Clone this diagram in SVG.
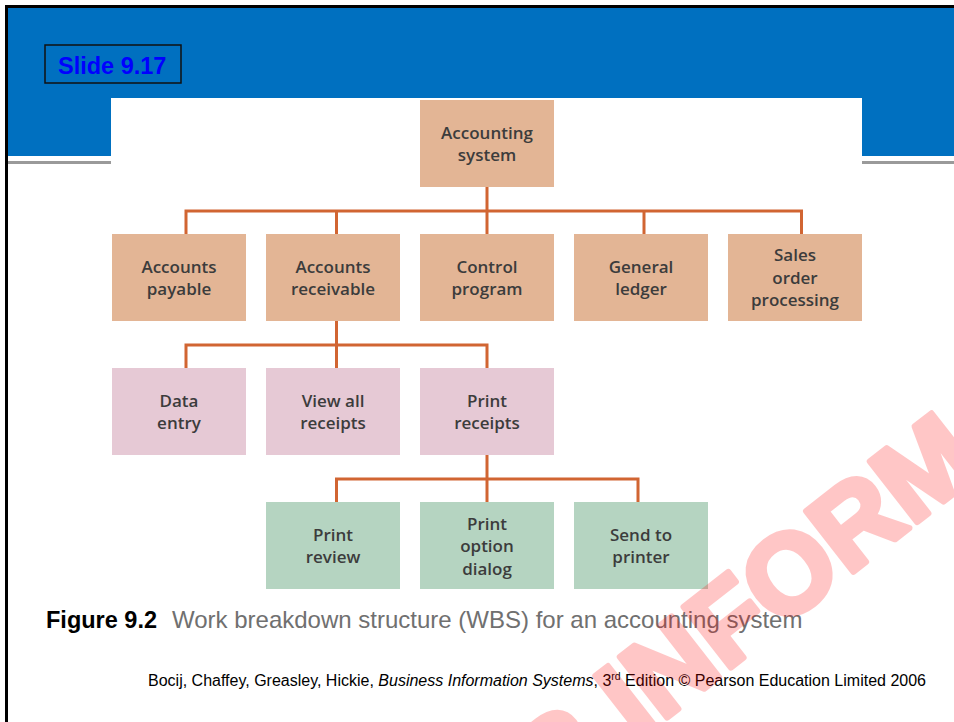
<svg xmlns="http://www.w3.org/2000/svg" width="954" height="722" viewBox="0 0 954 722">
<style>
.node text{font-family:"Open Sans","Noto Sans",sans-serif;font-size:17px;font-weight:600;fill:#3c3c3c;text-anchor:middle}
.l1 rect,.l2 rect{fill:#e3b595}
.l3 rect{fill:#e6c9d5}
.l4 rect{fill:#b5d4c1}
#connectors path{fill:none;stroke:#d16532;stroke-width:3;stroke-linejoin:miter}
</style>
<rect x="0" y="0" width="954" height="722" fill="#ffffff"/>
<rect x="8" y="8" width="946" height="148" fill="#0070c0"/>
<rect x="8" y="161" width="103" height="3" fill="#9a9a9a"/>
<rect x="862" y="161" width="92" height="3" fill="#9a9a9a"/>
<rect x="111" y="98" width="751" height="500" fill="#ffffff"/>
<rect x="5" y="5" width="949" height="3" fill="#000"/>
<rect x="5" y="5" width="3" height="717" fill="#000"/>
<g id="slide-label">
<rect x="45" y="45" width="136" height="38" fill="#0070c0" stroke="#111" stroke-width="1.5"/>
<text x="58" y="74" font-family="'Liberation Sans',Arial,sans-serif" font-size="23.5" font-weight="bold" fill="#0000ff">Slide 9.17</text>
</g>
<g id="connectors">
<path d="M487,187 V234"/>
<path d="M186,234 V211 H801.5 V234"/>
<path d="M336.5,211 V234"/>
<path d="M644,211 V234"/>
<path d="M336.5,321 V368"/>
<path d="M186,368 V345 H487 V368"/>
<path d="M487,455 V502"/>
<path d="M336.5,502 V479 H638 V502"/>
</g>
<g id="n-accounting-system" class="node l1"><rect x="420" y="100" width="134" height="87"/><text x="487" y="138.5">Accounting</text><text x="487" y="161">system</text></g>
<g id="n-accounts-payable" class="node l2"><rect x="112" y="234" width="134" height="87"/><text x="179" y="272.5">Accounts</text><text x="179" y="295">payable</text></g>
<g id="n-accounts-receivable" class="node l2"><rect x="266" y="234" width="134" height="87"/><text x="333" y="272.5">Accounts</text><text x="333" y="295">receivable</text></g>
<g id="n-control-program" class="node l2"><rect x="420" y="234" width="134" height="87"/><text x="487" y="272.5">Control</text><text x="487" y="295">program</text></g>
<g id="n-general-ledger" class="node l2"><rect x="574" y="234" width="134" height="87"/><text x="641" y="272.5">General</text><text x="641" y="295">ledger</text></g>
<g id="n-sales-order" class="node l2"><rect x="728" y="234" width="134" height="87"/><text x="795" y="261">Sales</text><text x="795" y="283.5">order</text><text x="795" y="306">processing</text></g>
<g id="n-data-entry" class="node l3"><rect x="112" y="368" width="134" height="87"/><text x="179" y="406.5">Data</text><text x="179" y="429">entry</text></g>
<g id="n-view-receipts" class="node l3"><rect x="266" y="368" width="134" height="87"/><text x="333" y="406.5">View all</text><text x="333" y="429">receipts</text></g>
<g id="n-print-receipts" class="node l3"><rect x="420" y="368" width="134" height="87"/><text x="487" y="406.5">Print</text><text x="487" y="429">receipts</text></g>
<g id="n-print-review" class="node l4"><rect x="266" y="502" width="134" height="87"/><text x="333" y="540.5">Print</text><text x="333" y="563">review</text></g>
<g id="n-print-option" class="node l4"><rect x="420" y="502" width="134" height="87"/><text x="487" y="529.5">Print</text><text x="487" y="552">option</text><text x="487" y="574.5">dialog</text></g>
<g id="n-send-printer" class="node l4"><rect x="574" y="502" width="134" height="87"/><text x="641" y="540.5">Send to</text><text x="641" y="563">printer</text></g>
<g id="caption" font-family="'Liberation Sans',Arial,sans-serif">
<text x="46" y="628" font-size="23.5" font-weight="bold" fill="#000">Figure 9.2</text>
<text x="172" y="628" font-size="24" fill="#707070">Work breakdown structure (WBS) for an accounting system</text>
<text x="148" y="686" font-size="16" fill="#000">Bocij, Chaffey, Greasley, Hickie, <tspan font-style="italic">Business Information Systems</tspan>, 3<tspan font-size="10.5" dy="-6">rd</tspan><tspan dy="6"> Edition © Pearson Education Limited 2006</tspan></text>
</g>
<g id="watermark" opacity="0.22">
<text transform="translate(637,741) rotate(-38)" x="-268" y="0" font-family="'Liberation Sans',Arial,sans-serif" font-size="112" font-weight="bold" fill="#ff0000" stroke="#ff0000" stroke-width="6" stroke-linejoin="round">FOR INFORMATION</text>
</g>
</svg>
